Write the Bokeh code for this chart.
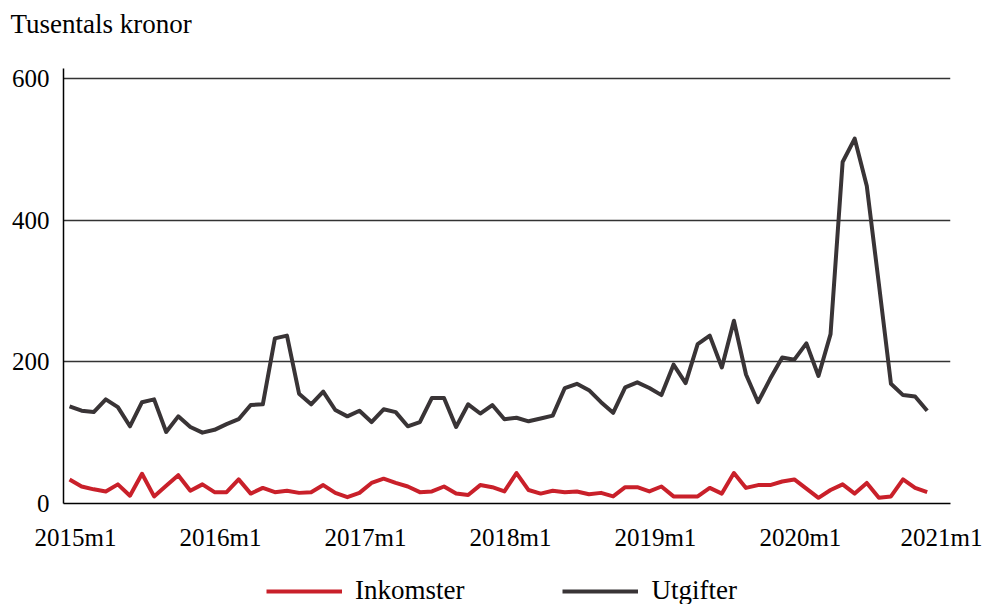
from bokeh.plotting import figure
from bokeh.layouts import column
from bokeh.models import Range1d, FixedTicker, Legend, LegendItem
from bokeh.embed import file_html
from bokeh.resources import INLINE

# ---- data (thousands of SEK, monthly 2015m1 .. 2020m12) ----
tick_labels = ["2015m1", "2016m1", "2017m1", "2018m1", "2019m1", "2020m1", "2021m1"]
inkomster = [34, 24, 20, 17, 27, 11, 42, 10, 25, 40,
             18, 27, 16, 16, 34, 14, 22, 16, 18, 15,
             16, 26, 15, 9, 15, 29, 35, 29, 24, 16,
             17, 24, 14, 12, 26, 23, 17, 43, 19, 14,
             18, 16, 17, 13, 15, 10, 23, 23, 17, 24,
             10, 10, 10, 22, 14, 43, 22, 26, 26, 31,
             34, 21, 8, 19, 27, 14, 29, 8, 10, 34,
             22, 16]
utgifter = [137, 131, 129, 147, 136, 109, 143, 147, 101, 123,
            108, 100, 104, 112, 119, 139, 140, 233, 237, 155,
            140, 158, 132, 123, 131, 115, 133, 129, 109, 115,
            149, 149, 108, 140, 127, 139, 119, 121, 116, 120,
            124, 163, 169, 160, 143, 128, 164, 171, 163, 153,
            196, 170, 225, 237, 192, 258, 182, 143, 176, 206,
            203, 226, 180, 239, 482, 515, 448, 310, 169, 153,
            151, 131]
y_ticks = [0, 200, 400, 600]
title_text = "Tusentals kronor"
series_names = ["Inkomster", "Utgifter"]

months = list(range(len(utgifter)))
tick_pos = [12 * k + 0.5 for k in range(len(tick_labels))]

FONT = "Liberation Serif"
RED = "#c9202a"
DARK = "#393436"
W = 982
H_TOP = 44
H_MAIN = 511
H_LEG = 49


def blank_strip(height, border_top):
    f = figure(width=W, height=height, output_backend="svg", toolbar_location=None,
               x_range=Range1d(0, 1), y_range=Range1d(-2, -1),
               min_border_left=0, min_border_right=0, min_border_top=border_top,
               min_border_bottom=0)
    f.axis.visible = False
    f.grid.visible = False
    f.outline_line_color = None
    f.background_fill_color = "white"
    f.border_fill_color = "white"
    return f


# ---- title strip ----
top = blank_strip(H_TOP, 38)
top.title.text = title_text
top.title.align = "left"
top.title.offset = -53
top.title.standoff = 0
top.title.text_font = FONT
top.title.text_font_size = "27px"
top.title.text_font_style = "normal"
top.title.text_color = "black"

# ---- main chart ----
p = figure(width=W, height=H_MAIN, output_backend="svg", toolbar_location=None,
           x_range=Range1d(-0.5, 72.93), y_range=Range1d(0, 614),
           min_border_left=63, min_border_right=32, min_border_top=68 - H_TOP,
           min_border_bottom=H_MAIN + H_TOP - 503)
p.title.visible = False
p.outline_line_color = None
p.background_fill_color = "white"
p.border_fill_color = "white"

p.xaxis.ticker = FixedTicker(ticks=tick_pos)
p.xaxis.major_label_overrides = {t: l for t, l in zip(tick_pos, tick_labels)}
p.yaxis.ticker = FixedTicker(ticks=y_ticks)
for ax in (p.xaxis[0], p.yaxis[0]):
    ax.major_tick_line_color = None
    ax.minor_tick_line_color = None
    ax.major_tick_out = 0
    ax.major_tick_in = 0
    ax.axis_line_color = "black"
    ax.axis_line_width = 1.5
    ax.major_label_text_font = FONT
    ax.major_label_text_font_size = "25px"
    ax.major_label_text_color = "black"
p.yaxis.major_label_standoff = 14
p.xaxis.major_label_standoff = 20

p.xgrid.visible = False
p.ygrid.ticker = FixedTicker(ticks=y_ticks)
p.ygrid.grid_line_color = "#333333"
p.ygrid.grid_line_width = 1.4

p.line(months, inkomster, line_color=RED, line_width=4, line_join="round")
p.line(months, utgifter, line_color=DARK, line_width=4, line_join="round")

# ---- legend strip (series drawn off-range; only their legend keys show) ----
lg = blank_strip(H_LEG, 0)
k1 = lg.line(months, inkomster, line_color=RED, line_width=4)
k2 = lg.line(months, utgifter, line_color=DARK, line_width=4)
legend = Legend(items=[LegendItem(label=series_names[0], renderers=[k1]),
                       LegendItem(label=series_names[1], renderers=[k2])],
                orientation="horizontal", location=(203, -2),
                glyph_width=76, glyph_height=24, label_height=24,
                label_standoff=13, spacing=98, padding=0, margin=0,
                border_line_color=None, background_fill_alpha=0,
                label_text_font=FONT, label_text_font_size="27px",
                label_text_color="black")
lg.add_layout(legend)

layout = column(top, p, lg, spacing=0)
open("out.html", "w").write(file_html(layout, INLINE))
